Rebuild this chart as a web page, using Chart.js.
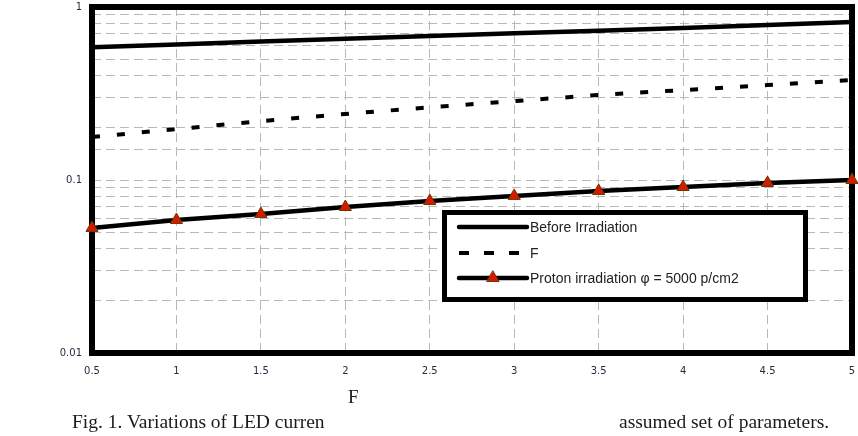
<!DOCTYPE html>
<html>
<head>
<meta charset="utf-8">
<script src="https://cdn.jsdelivr.net/npm/chart.js@4.4.1/dist/chart.umd.min.js"></script>
<style>
  html, body { margin: 0; padding: 0; background: #fff; }
  #wrap { position: relative; width: 858px; height: 436px; overflow: hidden; }
  #chart { position: absolute; left: 0; top: 0; }
  .txt { position: absolute; font-family: "Liberation Serif", "DejaVu Serif", serif; color: #1a1a1a; white-space: nowrap; }
</style>
</head>
<body>
<div id="wrap">
  <canvas id="chart" width="858" height="436"></canvas>
  <div class="txt" style="left:348px; top:386px; font-size:19px;">F</div>
  <div class="txt" style="left:72px; top:411px; font-size:19.5px;">Fig. 1. Variations of LED curren</div>
  <div class="txt" style="left:619px; top:411px; font-size:19.5px;">assumed set of parameters.</div>
</div>
<script>
// Data
const voltages = ['0.5', '1', '1.5', '2', '2.5', '3', '3.5', '4', '4.5', '5'];
const beforeIrr = [0.585, 0.608, 0.631, 0.655, 0.680, 0.704, 0.728, 0.757, 0.788, 0.819];
const afterIrrA = [0.177, 0.197, 0.219, 0.241, 0.263, 0.286, 0.310, 0.331, 0.354, 0.379];
const protonIrr = [0.0528, 0.0587, 0.0636, 0.0698, 0.0756, 0.0809, 0.0864, 0.0911, 0.0961, 0.100];
const seriesLabels = ['Before Irradiation', 'F', 'Proton irradiation \u03c6 = 5000 p/cm2'];
const yTickLabels = [1, 0.1, 0.01];

const tickFont = { family: 'DejaVu Sans', size: 10 };
const tickColor = '#2a2a40';
const gridColor = '#b8b8b8';

// thick black frame round the plot area
const framePlugin = {
  id: 'frame',
  beforeDatasetsDraw(chart) {
    const a = chart.chartArea;
    const ctx = chart.ctx;
    ctx.save();
    ctx.strokeStyle = '#000';
    ctx.lineWidth = 6;
    ctx.strokeRect(a.left, a.top, a.right - a.left, a.bottom - a.top);
    ctx.restore();
  }
};

// boxed legend inside the plot
const legendBox = {
  id: 'legendBox',
  afterDatasetsDraw(chart) {
    const ctx = chart.ctx;
    const x0 = 444.5, y0 = 212.5, w = 361, h = 87;
    ctx.save();
    ctx.fillStyle = '#fff';
    ctx.fillRect(x0, y0, w, h);
    ctx.strokeStyle = '#000';
    ctx.lineWidth = 5;
    ctx.strokeRect(x0, y0, w, h);

    const rows = [227, 253, 278];
    chart.data.datasets.forEach((ds, i) => {
      const y = rows[i];
      ctx.strokeStyle = ds.borderColor;
      ctx.lineWidth = ds.borderWidth;
      ctx.lineCap = 'round';
      ctx.setLineDash([]);
      if (ds.borderDash) {
        ctx.lineCap = 'butt';
        ctx.setLineDash([10, 15]);
        ctx.lineDashOffset = 0;
      }
      ctx.beginPath();
      ctx.moveTo(459, y);
      ctx.lineTo(527, y);
      ctx.stroke();
      ctx.setLineDash([]);
      if (ds.pointRadius > 0) {
        const r = ds.pointRadius;
        ctx.fillStyle = ds.pointBackgroundColor;
        ctx.strokeStyle = ds.pointBorderColor;
        ctx.lineWidth = 1;
        ctx.beginPath();
        ctx.moveTo(493, y - r);
        ctx.lineTo(493 + r * 0.87, y + r * 0.5);
        ctx.lineTo(493 - r * 0.87, y + r * 0.5);
        ctx.closePath();
        ctx.fill();
        ctx.stroke();
      }
      ctx.fillStyle = '#222';
      ctx.font = '14px "Liberation Sans", Arial, sans-serif';
      ctx.textBaseline = 'middle';
      ctx.fillText(ds.label, 530, y + 1);
    });
    ctx.restore();
  }
};

new Chart(document.getElementById('chart'), {
  type: 'line',
  data: {
    labels: voltages,
    datasets: [
      {
        label: seriesLabels[0],
        data: beforeIrr,
        borderColor: '#000',
        borderWidth: 4.5,
        pointRadius: 0,
        tension: 0
      },
      {
        label: seriesLabels[1],
        data: afterIrrA,
        borderColor: '#000',
        borderWidth: 4,
        borderDash: [8, 17],
        borderCapStyle: 'butt',
        pointRadius: 0,
        tension: 0
      },
      {
        label: seriesLabels[2],
        data: protonIrr,
        borderColor: '#000',
        borderWidth: 4.5,
        pointStyle: 'triangle',
        pointRadius: 7,
        pointBackgroundColor: '#d81800',
        pointBorderColor: '#6a3a00',
        pointBorderWidth: 1,
        tension: 0
      }
    ]
  },
  options: {
    responsive: false,
    animation: false,
    layout: { autoPadding: false, padding: { top: 7, right: 6, left: 0, bottom: 0 } },
    plugins: {
      legend: { display: false },
      tooltip: { enabled: false }
    },
    scales: {
      x: {
        type: 'category',
        offset: false,
        afterFit(scale) {
          scale.height = 83;
          scale.paddingLeft = 0;
          scale.paddingRight = 0;
        },
        grid: { color: gridColor, lineWidth: 1, drawTicks: false },
        border: { display: false, dash: [9, 5] },
        ticks: { font: tickFont, color: tickColor, padding: 12, maxRotation: 0, autoSkip: false }
      },
      y: {
        type: 'logarithmic',
        min: 0.01,
        max: 1,
        afterFit(scale) {
          scale.width = 92;
          scale.paddingTop = 0;
          scale.paddingBottom = 0;
        },
        grid: { color: gridColor, lineWidth: 1, drawTicks: false },
        border: { display: false, dash: [9, 5] },
        ticks: {
          font: tickFont,
          color: tickColor,
          padding: 10,
          autoSkip: false,
          callback(v) {
            const hit = yTickLabels.find(t => Math.abs(Math.log10(v) - Math.log10(t)) < 1e-6);
            return hit !== undefined ? String(hit) : '';
          }
        }
      }
    }
  },
  plugins: [framePlugin, legendBox]
});
</script>
</body>
</html>
